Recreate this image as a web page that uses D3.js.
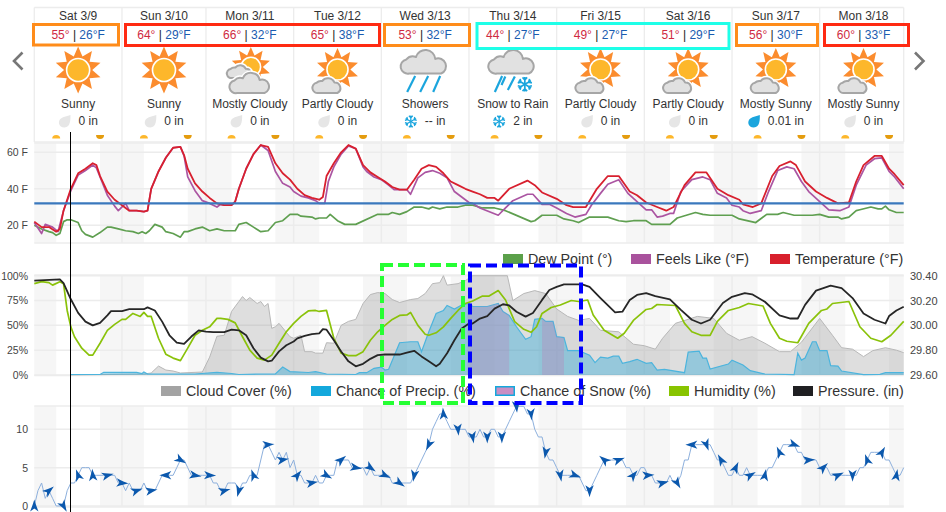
<!DOCTYPE html>
<html><head><meta charset="utf-8">
<script src="https://d3js.org/d3.v7.min.js"></script>
<style>
html,body{margin:0;padding:0;background:#fff}
svg{display:block}
text{font-family:"Liberation Sans",Arial,sans-serif}
</style></head><body>
<svg id="c" width="946" height="512"></svg>
<script>
// ---- header data
const dayLabels=["Sat 3/9","Sun 3/10","Mon 3/11","Tue 3/12","Wed 3/13","Thu 3/14","Fri 3/15","Sat 3/16","Sun 3/17","Mon 3/18"];
const dayHours=[24,23,24,24,24,24,24,24,24,24];
const highs=[55,64,66,65,53,44,49,51,56,60];
const lows=[26,29,32,38,32,27,27,29,30,33];
const conditions=["Sunny","Sunny","Mostly Cloudy","Partly Cloudy","Showers","Snow to Rain","Partly Cloudy","Partly Cloudy","Mostly Sunny","Mostly Sunny"];
const precipText=["0 in","0 in","0 in","0 in","-- in","2 in","0 in","0 in","0.01 in","0 in"];
const precipKind=["none","none","none","none","snow","snow","none","none","rain","none"];
const nightBands=[[0,6],[18,30],[42,54],[66,78],[90,102],[114,126],[138,150],[162,174],[186,198],[210,222],[234,238]];
const nowHour=10;
// ---- hourly series: [hour, value]
const temperature=[[0,22],[2,19],[4,19],[6,16.5],[7,18],[8,28],[10,40],[12,48.5],[14,51],[16,54],[17,53],[18,47],[20,38.5],[22,34],[24,31],[26,28],[28,28],[30,27.5],[31,28],[32,40],[34,49.5],[36,57],[38,62.5],[40,63],[41,58.5],[42,51],[44,43],[46,38.5],[48,35],[50,32],[52,31],[54,31],[55,33],[56,40],[58,51],[60,59],[62,64],[64,63],[66,54],[68,48.5],[70,45],[72,40],[74,36.5],[76,35],[78,34],[79,35.5],[80,47],[82,54],[84,60],[86,64],[88,62],[90,53],[92,49],[94,46.5],[96,44],[98,41],[100,39.5],[102,39.5],[104,45],[106,51],[108,53],[110,52],[112,48.5],[114,44],[116,42],[118,40],[120,38.5],[122,37],[124,35],[126,35],[127,33.5],[130,40],[135,44.5],[137,42],[139,38],[143,34.5],[145.7,31],[147.5,30],[151,30],[154,40],[157,47],[160,47],[163,38.5],[165,36.5],[167.5,32.5],[170.5,30],[173,28],[175,30],[178,42],[181,49],[184,49],[187,40],[190,36.5],[193,34],[194,31.5],[196.7,30],[199,32],[202,47],[204,52.5],[207,55],[208.5,53],[211,44],[214,38.5],[217,35],[220,32],[223,32.5],[225,44],[227,53],[230,58],[232,58],[234,51],[235.5,48],[238,42]];
const feelsLike=[[0,21.5],[2,15.5],[3,20.5],[5,19],[6.5,16.5],[8,28],[10,39],[12,47.5],[14,50],[16,53],[17,51.5],[18.5,44],[20,36.5],[22,30.5],[23,28],[25,32],[26,28],[28,28],[30,27.5],[31,28],[32,40],[34,49.5],[36,57],[38,62.5],[40,63],[41,58],[42,46.5],[44,39],[46,33.5],[48,32],[50,30],[51,31.5],[52,31],[54,31],[55,33],[56,40],[58,51],[60,59],[62,64],[64,61],[66,49.5],[68,43],[70,41],[71,38.5],[73,36],[75,35],[77,33.5],[78,32],[79.5,32],[80.5,44],[82,52],[84,59],[86,63.5],[88,62],[90,52],[91,49.5],[93,46.5],[95,45],[97,42],[98.5,39.5],[100,39.5],[102,39.5],[103,37],[105,46],[107,49],[109,50],[111,48.5],[113,46],[115,38.5],[117,35.5],[119,32.5],[120,32],[122,29.5],[127,25.5],[129,29.5],[131,33.5],[135,37],[136.5,37],[139,31.5],[141,31.5],[143,29.5],[145.7,26.5],[148,24.5],[151,26],[152.5,31],[155,37.5],[157,42.5],[160,45],[162.5,37.5],[165,33],[167.5,28.5],[169,28.5],[170.5,24.5],[172,25],[174,26.5],[175,26.5],[177,38.5],[180,45],[183,46.5],[185,45],[187,37.5],[189.5,35],[191,31],[193,30],[194,28],[196,26.5],[199,28],[201,38.5],[203.5,50],[206,52],[208,51],[210,44],[212,38.5],[215,33],[217.5,28.5],[220.5,28],[223,30],[225,42],[227.7,53],[230,56.5],[232,57],[234,49.5],[235.5,46.5],[238,40]];
const dewPoint=[[0,20],[2,18],[4,16.5],[5,16],[6,14.5],[7,15.5],[8,22],[9,23],[10,23],[12,21.5],[13,17],[14,15],[16,13.5],[18,16],[20,19],[21,19],[23,18],[25,17],[27,16.5],[28.5,15.5],[29.5,16.5],[30.5,15.5],[31.5,17],[33,20.5],[35,19],[36,16.5],[38,15.5],[40,13.5],[41,16.5],[42,16.5],[44,18],[46,19],[48,17],[50,18],[52,17],[55,17],[56,20.5],[58,21.5],[60,19],[62,16.5],[64,17],[66,21.5],[68,22.5],[70,26],[72,26],[73,25],[76,24.5],[77,23.5],[78,24],[80,24],[81,26],[83,22.5],[85,20.5],[88,20.5],[94,26],[97,26],[98,27],[100,26],[102,27.5],[104,30],[106,30],[108,29],[109,30],[111,29],[113,30],[116,30],[118,31],[120,31],[122.7,29.5],[126,29.5],[129,28],[136,22],[137,22.5],[139,25.5],[143,25.5],[145,23.5],[147.5,22.5],[149,21.5],[152,24.5],[157,24.5],[160,22.5],[162,22],[164,22.5],[167.5,22.5],[169,20.5],[174,20.5],[176,24],[178.5,25.5],[181,27],[183,26],[185,25.5],[191,25.5],[193,23.5],[197.5,21.5],[200.5,26],[203.5,26],[205,27],[208,25.5],[213,25.5],[215,26],[217.5,24.5],[220,24.5],[221,23.5],[223,24.5],[225,28],[226,28.5],[229,30],[231,29],[232,29],[233,30.5],[234,28.5],[236,27],[238,27]];
const freezingLine=32;
const cloudCover=[[10,0],[30,1],[32,2],[34,9],[36,5],[38,4],[40,2],[46,3],[48,18],[50,39],[52,40],[54,64],[56,74],[57,79],[58,75],[59,78],[61,72],[62,74],[63,69],[64,72],[65,47],[66,48.6],[67,52],[70,38.5],[71,37],[73,40],[74,23.5],[76,23.5],[77,22],[79,22],[80,32.5],[82,32],[84,50],[86,54],[88,56],[90,72],[92,81],[94,83],[96,82],[98,76],[100,73],[103,76],[105,77],[107,82],[109,92],[111,93],[112,100],[113,90.5],[116,92],[118,95],[120,100],[129.5,100],[131,75],[134,82],[137,85],[140,82],[143,66.5],[146,59],[149,55],[152,57],[155,45],[160,43.5],[164,31],[167,29.5],[170,26],[172,37],[175.5,52],[181.5,59],[186,57],[189.5,42],[193,35],[196.5,38.6],[200,32],[204,23.5],[207,23.5],[210,33],[215,57],[218.5,40],[221,27.5],[224,26],[227,18.5],[229.5,24.5],[233,27.5],[236,25],[238,22.5]];
const precipChance=[[10,0.5],[18,0.5],[19,2.7],[28,2.7],[29.5,1.5],[30,3],[31,1],[44,1],[50,2.7],[54,1.5],[56,0.5],[62,1],[66,1],[68,8],[70,3.4],[75,2.5],[77,3.4],[80,1],[88,0.5],[89,2.3],[91,2.3],[93,6.7],[95,8],[96,5],[97,5.7],[100,32.5],[103,33.5],[105,33.5],[106,23.5],[108,43.6],[110,62],[112,65],[113,70],[115,66.5],[117,70.5],[119,72],[120,69],[124,69],[127,72],[128.3,64],[130,60],[132,48.6],[134.5,36],[136,38.6],[137,56],[139,57],[140,54],[142,54],[143,38.6],[145,37.6],[146,24.5],[149,24.5],[152,20],[153.5,12.4],[155,18],[157,17],[158.5,19],[160,19],[161,11.7],[163,13.4],[165,15.8],[167.5,11.7],[169,12.4],[170.5,5],[172.5,5.7],[178,2.3],[179,23],[182,24],[183,17],[184,17],[185,6],[190,11],[191,15],[194,10],[196,4.4],[200,1],[208,0.3],[209,22],[210,15],[211,17],[213,33.5],[214,33.5],[215,24.5],[217,24.5],[218,9.4],[220,9],[221,4],[227,0.3],[231.5,0.7],[233,2.3],[238,2.3]];
const snowChance=[[118.6,0],[118.6,71.5],[119,72],[120,69],[124,69],[127,72],[128.3,64],[130,60],[130,0],[139,0],[139,57],[140,54],[142,54],[143,38.6],[145,37.6],[145,0]];
const humidity=[[0,92],[2,94],[4,93],[5,90.5],[7,94],[8,92],[9,65],[10,48.5],[11,38.5],[13,27],[15,20],[16,20],[18,32],[20,45],[22,51],[24,56],[25,56],[27,62],[29,59],[30,63],[31,59],[32,59],[34,37],[36,21],[38,17],[40,14.5],[42,27],[44,40],[46,45],[48,48.5],[50,57],[51,57],[53,56],[55,52.5],[57,38.5],[59,25],[61,17],[63,15],[65,20],[67,32],[69,43.5],[71,52],[73,59],[75,64.5],[77,65],[78,64],[80,65],[82,37],[84,22],[86,19.5],[88,19.5],[90,23.5],[92,35],[94,43.5],[96,50],[98,56],[100,60],[102,60.5],[103,63],[105,50],[107,41],[108,40],[110,42.5],[112,48.5],[114,57],[116,65],[118,72],[120,74.5],[122.7,79.5],[124.5,79.5],[127,85],[129,75.5],[131.5,53.7],[134,46],[136,43],[137.5,48.6],[139,62],[141.5,68],[144,70.5],[147,75],[149,74],[151.5,75.5],[153,60.5],[156,45],[159.7,37],[161.5,42],[164,55],[167.5,66],[169,67],[170.5,71],[175.5,70],[178,52],[180,43.5],[182.5,40],[185,40],[187,54],[190,65],[193,68],[195.5,72],[199.5,69.5],[201.5,52],[204,37],[206,34],[209,32.5],[212,52],[215.5,65],[217,66.5],[218.5,72],[223,74],[226,48.6],[229,37],[232,33.5],[234.5,40],[238,54]];
const pressure=[[0,30.36],[7,30.37],[8,30.34],[10,30.21],[12,30.10],[14,30.03],[16,30.00],[18,30.02],[20,30.08],[21,30.115],[24,30.115],[26,30.13],[30,30.13],[31,30.145],[33,30.12],[35,30.03],[37,29.92],[39,29.86],[41,29.85],[43,29.91],[45,29.96],[47,29.95],[49,29.945],[52,29.945],[54,29.965],[56,29.96],[58,29.92],[60,29.815],[62,29.74],[64,29.71],[65,29.715],[67,29.79],[69,29.84],[71,29.87],[72,29.895],[74,29.915],[76,29.93],[78,29.935],[79,29.97],[80,29.965],[82,29.88],[84,29.79],[86,29.71],[88,29.67],[90,29.69],[92,29.73],[94,29.76],[96,29.765],[100,29.765],[102,29.78],[104,29.795],[106,29.75],[108,29.71],[110,29.67],[111,29.69],[113,29.775],[115,29.88],[117,29.975],[119,30.015],[120,30.015],[122,30.055],[124,30.075],[126,30.135],[128.3,30.17],[130,30.16],[132,30.11],[134.5,30.07],[136.5,30.10],[139,30.205],[141,30.285],[143,30.31],[145,30.33],[150,30.33],[152,30.31],[155,30.22],[159,30.105],[161,30.11],[163,30.205],[165,30.245],[167.5,30.26],[170,30.235],[174,30.21],[177,30.125],[180,30.045],[182.5,30.015],[185,30.045],[188.5,30.18],[191,30.23],[194.5,30.26],[196.5,30.25],[200,30.19],[204,30.08],[207,30.055],[209,30.055],[211,30.165],[214,30.28],[218,30.32],[221,30.30],[224,30.22],[227,30.095],[230,30.045],[233,30.015],[234,30.075],[236,30.12],[238,30.15]];
const wind=[0,2,3,1,2,1,0,0,0,2,3,3,4,5,5,5,4,4,4,4,4,4,4,3,3,2,3,2,2,2,3,2,2,2,3,4,4,4,4,5,6,6,5,4,4,4,4,4,4,3,3,2,2,3,3,3,2,3,3,4,4,4,6,8,8,7,6,7,6,7,5,6,4,4,3,3,3,4,3,3,4,4,4,6,6,6,6,5,5,5,5,4,5,4,4,4,4,4,3,3,3,3,3,3,4,5,6,7,8,10,11,12,12,11,10,10,10,10,10,9,9,9,10,9,9,10,10,9,9,10,11,12,13,13,13,12,12,10,9,9,7,6,6,5,4,4,4,4,4,4,3,2,2,3,4,5,6,6,6,6,6,6,5,5,4,4,5,5,4,4,3,3,3,3,4,3,3,4,6,6,8,8,8,8,8,8,7,6,6,5,4,4,5,4,4,5,4,4,4,4,4,5,5,6,7,8,8,8,8,7,7,6,6,6,6,5,5,5,4,4,4,4,4,4,4,4,5,5,6,7,7,7,7,6,6,5,4,4,5];
// wind direction arrows, one every 4 hours (degrees, 0 = up)
const windDirs=[0,50,150,-20,-5,75,95,70,80,-90,120,100,92,75,195,-20,85,80,40,80,120,50,100,125,115,125,190,205,-5,175,170,180,180,175,175,190,170,110,180,-50,70,40,85,75,150,-90,160,-30,25,60,10,-25,110,85,45,65,180,-20,30,10];
const tempTicks=[20,40,60], pctTicks=[0,25,50,75,100], pressTicks=[29.6,29.8,30.0,30.2,30.4], windTicks=[0,5,10];

const svg=d3.select("#c");
const x=d3.scaleLinear().domain([0,238]).range([34.3,903.7]);
const yT=d3.scaleLinear().domain([11,65]).range([241.7,143.2]);
const yP=d3.scaleLinear().domain([0,100]).range([375,275.7]);
const yB=d3.scaleLinear().domain([29.6,30.4]).range([375,275.7]);
const yW=d3.scaleLinear().domain([0,13]).range([506,406.3]);
const gridC="#ececec", night="#f6f6f6", txt="#444";

// ---- plot backdrops
function backdrop(y0,y1,ticks,y){
  const g=svg.append("g");
  g.selectAll("rect").data(nightBands).join("rect")
   .attr("x",d=>x(d[0])).attr("width",d=>x(d[1])-x(d[0])).attr("y",y0).attr("height",y1-y0).attr("fill",night);
  let acc=0; const bounds=[];
  dayHours.forEach(h=>{acc+=h;bounds.push(acc)});
  g.selectAll("line.v").data(bounds.slice(0,-1)).join("line").attr("class","v")
   .attr("x1",d=>x(d)).attr("x2",d=>x(d)).attr("y1",y0).attr("y2",y1).attr("stroke",gridC).attr("stroke-width",1.5);
  g.selectAll("line.h").data(ticks).join("line").attr("class","h")
   .attr("x1",x(0)).attr("x2",x(238)).attr("y1",d=>y(d)).attr("y2",d=>y(d)).attr("stroke",gridC).attr("stroke-width",1.5);
  [y0,y1].forEach(v=>g.append("line").attr("x1",x(0)).attr("x2",x(238)).attr("y1",v).attr("y2",v).attr("stroke",gridC).attr("stroke-width",1.5));
}
backdrop(143,243,tempTicks,yT);
backdrop(275,375.5,pctTicks,yP);
backdrop(406,507,windTicks,yW);

function axis(gen,tx,fmt,ticks,size){
  const a=svg.append("g").attr("transform",`translate(${tx},0)`).call(gen.tickValues(ticks).tickFormat(fmt).tickSize(0).tickPadding(0));
  a.select(".domain").remove();
  a.selectAll("text").attr("font-size",size).attr("fill",txt).style("font-family",'"Liberation Sans",Arial,sans-serif');
}
axis(d3.axisLeft(yT),28,d=>d+" F",tempTicks,10.5);
axis(d3.axisLeft(yP),28,d=>d+"%",pctTicks,10.5);
axis(d3.axisRight(yB),910,d3.format(".2f"),pressTicks,11);
axis(d3.axisLeft(yW),28,d=>d,windTicks,10.5);

// ---- chart 1
const ln=y=>d3.line().x(d=>x(d[0])).y(d=>y(d[1]));
const drawLine=(data,y,color,w)=>svg.append("path").attr("d",ln(y)(data)).attr("fill","none").attr("stroke",color).attr("stroke-width",w).attr("stroke-linejoin","round");
drawLine(dewPoint,yT,"#5f9f50",1.7);
drawLine(feelsLike,yT,"#ab55a2",1.7);
drawLine(temperature,yT,"#d8202f",1.8);
svg.append("line").attr("x1",x(0)).attr("x2",x(238)).attr("y1",yT(freezingLine)).attr("y2",yT(freezingLine)).attr("stroke","#3a78bd").attr("stroke-width",2.2);

// ---- chart 2
const ar=d3.area().x(d=>x(d[0])).y0(yP(0)).y1(d=>yP(d[1]));
svg.append("path").attr("d",ar(cloudCover)).attr("fill","#9a9a9a").attr("fill-opacity",.33);
svg.append("path").attr("d",ln(yP)(cloudCover)).attr("fill","none").attr("stroke","#b8b8b8").attr("stroke-width",1);
svg.append("path").attr("d",ar(precipChance)).attr("fill","#12a0d6").attr("fill-opacity",.35);
svg.append("path").attr("d",ln(yP)(precipChance)).attr("fill","none").attr("stroke","#4cb4dd").attr("stroke-width",1.2);
svg.append("path").attr("d",ar(snowChance)).attr("fill","#c176b4").attr("fill-opacity",.3);
drawLine(humidity,yP,"#8ac20a",1.7);
drawLine(pressure,yB,"#262626",1.8);

// ---- chart 3
svg.append("path").attr("d",d3.line().x((d,i)=>x(i)).y(d=>yW(d))(wind)).attr("fill","none").attr("stroke","#8db0dd").attr("stroke-width",1);
svg.append("g").selectAll("path").data(windDirs).join("path")
  .attr("d","M0,-6.5 Q1.2,-2 4.2,5.5 L0,2.6 L-4.2,5.5 Q-1.2,-2 0,-6.5Z")
  .attr("fill","#0b58ad")
  .attr("transform",(d,i)=>`translate(${x(i*4)},${yW(wind[i*4])}) rotate(${d})`);

// ---- header
const cellTop=7.5,cellBot=142;
const g0=svg.append("g");
let acc=0; const starts=[]; dayHours.forEach(h=>{starts.push(acc);acc+=h});
const centers=starts.map((s,i)=>x(s+(i==9?12:dayHours[i]/2)));
g0.selectAll("line").data([...starts,238]).join("line").attr("x1",d=>x(d)).attr("x2",d=>x(d)).attr("y1",cellTop).attr("y2",cellBot).attr("stroke",gridC).attr("stroke-width",1.3);
[cellTop,cellBot].forEach(v=>g0.append("line").attr("x1",x(0)).attr("x2",x(238)).attr("y1",v).attr("y2",v).attr("stroke",gridC).attr("stroke-width",1.3));

const label=(t,cx,cy,sz=12,fill="#333")=>svg.append("text").attr("x",cx).attr("y",cy).attr("text-anchor","middle").attr("dominant-baseline","central").attr("font-size",sz).attr("fill",fill).text(t);
dayLabels.forEach((d,i)=>label(d,centers[i],16));
conditions.forEach((d,i)=>label(d,centers[i],103.5));
highs.forEach((h,i)=>{
  const t=svg.append("text").attr("x",centers[i]).attr("y",35).attr("text-anchor","middle").attr("dominant-baseline","central").attr("font-size",12);
  t.append("tspan").attr("fill","#cf2a3f").text(h+"°");
  t.append("tspan").attr("fill","#222").text(" | ");
  t.append("tspan").attr("fill","#1a5cb0").text(lows[i]+"°");
  t.append("tspan").attr("fill","#1a5cb0").text("F");
});

// ---- icons
function starPts(cx,cy,R,r,n){const p=[];for(let i=0;i<2*n;i++){const a=Math.PI*i/n-Math.PI/2,q=i%2?r:R;p.push([cx+q*Math.cos(a),cy+q*Math.sin(a)]);}return p;}
function sun(cx,cy,R=24){
  svg.append("polygon").attr("points",starPts(cx,cy,R,R*0.6,10).join(" ")).attr("fill","#fb8c2e");
  svg.append("circle").attr("cx",cx).attr("cy",cy).attr("r",R*0.49).attr("fill","#fdb72b").attr("stroke","#fff").attr("stroke-width",1.6);
}
function cloud(l,t,w,h){ // bounding box
  const b=t+h,r=l+w,rs=h*0.3;
  const d=`M${l+rs},${b} A${rs},${rs} 0 0 1 ${l+rs*0.6},${b-2*rs} A${h*0.36},${h*0.36} 0 0 1 ${l+w*0.3},${t+h*0.3} A${h*0.42},${h*0.42} 0 0 1 ${l+w*0.72},${t+h*0.38} A${rs*1.1},${rs*1.1} 0 0 1 ${r-rs},${b} Z`;
  svg.append("path").attr("d",d).attr("fill","#fff").attr("stroke","#fff").attr("stroke-width",5).attr("stroke-linejoin","round");
  svg.append("path").attr("d",d).attr("fill","#e1e1e1").attr("stroke","#a6a6a6").attr("stroke-width",2).attr("stroke-linejoin","round");
}
function slash(x1,y1,x2,y2,w=2.2){svg.append("line").attr("x1",x1).attr("y1",y1).attr("x2",x2).attr("y2",y2).attr("stroke","#1ba5dd").attr("stroke-width",w);}
function flake(cx,cy,R,col="#1ba5dd",w=1.3){
  const g=svg.append("g").attr("transform",`translate(${cx},${cy})`).attr("stroke",col).attr("stroke-width",w).attr("fill","none");
  for(let i=0;i<6;i++){
    g.append("path").attr("transform",`rotate(${i*60})`).attr("d",`M0,0 L0,${-R} M0,${-R*0.62} L${-R*0.32},${-R*0.95} M0,${-R*0.62} L${R*0.32},${-R*0.95}`);
  }
}
centers.forEach((c,i)=>{
  const k=conditions[i];
  if(k==="Sunny") sun(c,70,23.5);
  if(k==="Mostly Cloudy"){sun(c+1,67,20);cloud(c-22,63,25,15);cloud(c-19,72,40,21);}
  if(k==="Partly Cloudy"||k==="Mostly Sunny"){sun(c,69.5,21.5);cloud(c-24,76,29,17);}
  if(k==="Showers"){cloud(c-23,50,46,23.5);slash(c-18,92,c-10,76);slash(c-5,92,c+3,76);slash(c+8,92,c+15,76);}
  if(k==="Snow to Rain"){cloud(c-23,50,46,23.5);slash(c-18,92,c-10.7,76);slash(c-11.3,85,c-7.5,76.5);slash(c-5,90,c+2,76.5);flake(c+12,84.3,7.2,"#1ba5dd",1.7);}
});
// precipitation row
precipText.forEach((t,i)=>{
  const el=svg.append("text").attr("y",121).attr("dominant-baseline","central").attr("font-size",12).attr("fill","#333").text(t);
  const w=el.node().getComputedTextLength();
  const left=centers[i]-(12+8+w)/2;
  el.attr("x",left+20);
  if(precipKind[i]==="snow") flake(left+6,121.5,6,"#1ba5dd",1.3);
  else {
    const f=precipKind[i]==="rain"?"#1ba5dd":"#e6e6e6";
    svg.append("path").attr("transform",`translate(${left},115)`).attr("d","M12,0 C12,4 12.5,12 6,12.5 C0,12.5 -1,6 2.5,3.5 C5,1.5 9,1 12,0Z").attr("fill",f);
  }
});
// sunrise / sunset marks, from the day/night band edges
const rises=nightBands.slice(0,-1).map(d=>d[1]), sets=nightBands.slice(1).map(d=>d[0]);
svg.append("g").selectAll("path").data(rises).join("path").attr("transform",d=>`translate(${x(d)},138.5)`).attr("d","M-4,0 A4,3.6 0 0 1 4,0Z").attr("fill","#fdb72b");
svg.append("g").selectAll("path").data(sets).join("path").attr("transform",d=>`translate(${x(d)},135)`).attr("d","M-4,0 A4,4 0 0 0 4,0Z").attr("fill","#e49c0e");
// chevrons
svg.append("path").attr("d","M22.5,52.5 L14,61 L22.5,69.5").attr("fill","none").attr("stroke","#777").attr("stroke-width",2.6);
svg.append("path").attr("d","M915,52.5 L923.5,61 L915,69.5").attr("fill","none").attr("stroke","#777").attr("stroke-width",2.6);

// ---- legends
const legendTop=["Dew Point (°)","Feels Like (°F)","Temperature (°F)"], legendTopColors=["#5ba04a","#a9529d","#d8202c"], legendTopX=[503,631,770];
const legendBottom=["Cloud Cover (%)","Chance of Precip. (%)","Chance of Snow (%)","Humidity (%)","Pressure. (in)"], legendBottomColors=["#a3a3a3","#14a8dc","#c98fc4","#88c400","#1f1f22"], legendBottomX=[161,311,495,669,793];
function legend(names,cols,xs,y){
  names.forEach((n,i)=>{
    const snow=n.startsWith("Chance of Snow");
    svg.append("rect").attr("x",xs[i]+(snow?.75:0)).attr("y",y-5+(snow?.75:0)).attr("width",snow?18.5:20).attr("height",snow?8.5:10).attr("fill",cols[i]).attr("stroke",snow?"#14a8dc":"none").attr("stroke-width",snow?1.5:0);
    svg.append("text").attr("x",xs[i]+25).attr("y",y).attr("dominant-baseline","central").attr("font-size",14.3).attr("fill","#333").text(n);
  });
}
legend(legendTop,legendTopColors,legendTopX,259);
legend(legendBottom,legendBottomColors,legendBottomX,391);

// ---- now line
const nowX=Math.round(x(nowHour))-0.5;
svg.append("line").attr("x1",nowX).attr("x2",nowX).attr("y1",132).attr("y2",512).attr("stroke","#000").attr("stroke-width",1);

// ---- annotation boxes
const boxes=[[33.5,24.5,85,20.5,"#ff8c1a"],[125.5,24.5,254,21,"#ff2a12"],[384.5,24.5,85,21,"#ff8c1a"],[477,23.5,252,25,"#1effe8"],[736.5,24.5,81,21,"#ff8c1a"],[824.5,24.5,84,21,"#ff2a12"]];
boxes.forEach(b=>svg.append("rect").attr("x",b[0]).attr("y",b[1]).attr("width",b[2]).attr("height",b[3]).attr("fill","none").attr("stroke",b[4]).attr("stroke-width",3));
svg.append("rect").attr("x",382).attr("y",265).attr("width",81).attr("height",138).attr("fill","none").attr("stroke","#25ff33").attr("stroke-width",4).attr("stroke-dasharray","11 5");
svg.append("rect").attr("x",470).attr("y",265.5).attr("width",111).attr("height",137.5).attr("fill","none").attr("stroke","#0000ff").attr("stroke-width",4).attr("stroke-dasharray","11 5");
</script>
</body></html>
